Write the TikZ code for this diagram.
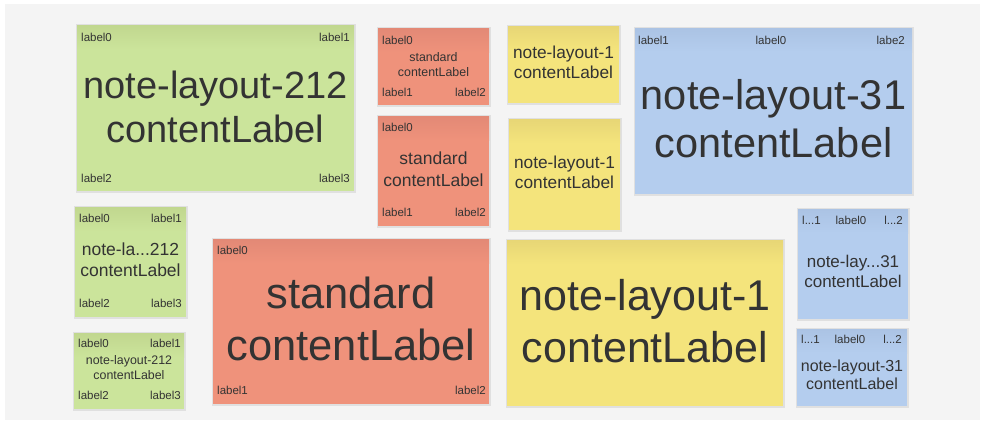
\documentclass[tikz,border=0pt]{standalone}
\usepackage{fontspec}
\setmainfont{Liberation Sans}
\begin{document}
\begin{tikzpicture}[x=1pt,y=-1pt,
  lbl/.style={inner sep=0pt,text=txt,font=\fontsize{11.5}{13}\selectfont,anchor=base west},
  lblr/.style={lbl,anchor=base east},
  lblc/.style={lbl,anchor=base},
  big/.style={inner sep=0pt,text=txt,anchor=base},
]
\definecolor{txt}{HTML}{333333}
\definecolor{bg}{HTML}{F4F4F4}
\definecolor{gB}{HTML}{CBE49B}\definecolor{gH}{HTML}{C1D78F}
\definecolor{rB}{HTML}{EF927B}\definecolor{rH}{HTML}{E38976}
\definecolor{yB}{HTML}{F4E47C}\definecolor{yH}{HTML}{E7D676}
\definecolor{bB}{HTML}{B4CDEE}\definecolor{bH}{HTML}{ABC3E4}
\useasboundingbox (0,0) rectangle (981,421);
\fill[white] (0,0) rectangle (981,421);
\fill[bg] (5,4) rectangle (980,420);
% note box: #1 left, #2 top, #3 right, #4 bottom, #5 body, #6 header
\newcommand\notebox[6]{%
  \fill[black!12] (#1-1.5,#2-1.5) rectangle (#3+1.5,#4+1.5);
  \fill[#5] (#1,#2) rectangle (#3,#4);
  \shade[top color=#6,bottom color=#5] (#1,#2) rectangle (#3,#2+24);
}
% ---------- green big
\notebox{77}{25}{354}{191}{gB}{gH}
\node[lbl]  (g1a) at (81,41) {label0};
\node[lblr] (g1b) at (350,41) {label1};
\node[lbl]  (g1c) at (81,182) {label2};
\node[lblr] (g1d) at (350,182) {label3};
\node[big,font=\fontsize{38}{44}\selectfont] (g1m) at (215.5,98) {note-layout-212};
\node[big,font=\fontsize{38}{44}\selectfont] (g1n) at (215.5,142) {contentLabel};
% ---------- green small 1
\notebox{75}{207}{186}{317}{gB}{gH}
\node[lbl]  (g2a) at (79,222) {label0};
\node[lblr] (g2b) at (182,222) {label1};
\node[lbl]  (g2c) at (79,307) {label2};
\node[lblr] (g2d) at (182,307) {label3};
\node[big,font=\fontsize{17.5}{21}\selectfont] (g2m) at (130.5,255) {note-la...212};
\node[big,font=\fontsize{17.5}{21}\selectfont] (g2n) at (130.5,276) {contentLabel};
% ---------- green small 2
\notebox{74}{333}{184}{409}{gB}{gH}
\node[lbl]  (g3a) at (78,347) {label0};
\node[lblr] (g3b) at (181,347) {label1};
\node[lbl]  (g3c) at (78,399) {label2};
\node[lblr] (g3d) at (181,399) {label3};
\node[big,font=\fontsize{12.4}{15}\selectfont] (g3m) at (129,364) {note-layout-212};
\node[big,font=\fontsize{12.4}{15}\selectfont] (g3n) at (129,379) {contentLabel};
% ---------- red small top
\notebox{378}{28}{489}{105}{rB}{rH}
\node[lbl]  (r1a) at (382,44) {label0};
\node[lbl]  (r1b) at (382,96) {label1};
\node[lblr] (r1c) at (486,96) {label2};
\node[big,font=\fontsize{12.4}{15}\selectfont] (r1m) at (433.5,61.5) {standard};
\node[big,font=\fontsize{12.4}{15}\selectfont] (r1n) at (433.5,76) {contentLabel};
% ---------- red second
\notebox{378}{116}{489}{226}{rB}{rH}
\node[lbl]  (r2a) at (382,131) {label0};
\node[lbl]  (r2b) at (382,216) {label1};
\node[lblr] (r2c) at (486,216) {label2};
\node[big,font=\fontsize{17.5}{21}\selectfont] (r2m) at (433.5,164) {standard};
\node[big,font=\fontsize{17.5}{21}\selectfont] (r2n) at (433.5,186) {contentLabel};
% ---------- red big
\notebox{213}{239}{489}{404}{rB}{rH}
\node[lbl]  (r3a) at (217,254) {label0};
\node[lbl]  (r3b) at (217,394) {label1};
\node[lblr] (r3c) at (486,394) {label2};
\node[big,font=\fontsize{43.5}{52}\selectfont] (r3m) at (351,308) {standard};
\node[big,font=\fontsize{43.5}{52}\selectfont] (r3n) at (351,360) {contentLabel};
% ---------- yellow small
\notebox{508}{26}{619}{103}{yB}{yH}
\node[big,font=\fontsize{17.3}{20}\selectfont] (y1m) at (563.5,58) {note-layout-1};
\node[big,font=\fontsize{17.3}{20}\selectfont] (y1n) at (563.5,78) {contentLabel};
% ---------- yellow second
\notebox{509}{119}{620}{230}{yB}{yH}
\node[big,font=\fontsize{17.3}{20}\selectfont] (y2m) at (564.5,168) {note-layout-1};
\node[big,font=\fontsize{17.3}{20}\selectfont] (y2n) at (564.5,188) {contentLabel};
% ---------- yellow big
\notebox{507}{240}{783}{406}{yB}{yH}
\node[big,font=\fontsize{43}{52}\selectfont] (y3m) at (645,310) {note-layout-1};
\node[big,font=\fontsize{43}{52}\selectfont] (y3n) at (645,362) {contentLabel};
% ---------- blue big
\notebox{635}{28}{912}{194}{bB}{bH}
\node[lbl]  (b1a) at (638,44) {label1};
\node[lblc] (b1b) at (771,44) {label0};
\node[lblr] (b1c) at (905,44) {labe2};
\node[big,font=\fontsize{41.5}{48}\selectfont] (b1m) at (773.5,109) {note-layout-31};
\node[big,font=\fontsize{41.5}{48}\selectfont] (b1n) at (773.5,157) {contentLabel};
% ---------- blue small 1
\notebox{798}{209}{908}{319}{bB}{bH}
\node[lbl]  (b2a) at (802,224) {l...1};
\node[lblc] (b2b) at (851,224) {label0};
\node[lblr] (b2c) at (903,224) {l...2};
\node[big,font=\fontsize{17}{20}\selectfont] (b2m) at (853,267) {note-lay...31};
\node[big,font=\fontsize{17}{20}\selectfont] (b2n) at (853,287) {contentLabel};
% ---------- blue small 2
\notebox{797}{329}{907}{406}{bB}{bH}
\node[lbl]  (b3a) at (801,343) {l...1};
\node[lblc] (b3b) at (850,343) {label0};
\node[lblr] (b3c) at (902,343) {l...2};
\node[big,font=\fontsize{16}{19}\selectfont] (b3m) at (852,371) {note-layout-31};
\node[big,font=\fontsize{16}{19}\selectfont] (b3n) at (852,389) {contentLabel};
\end{tikzpicture}
\end{document}
